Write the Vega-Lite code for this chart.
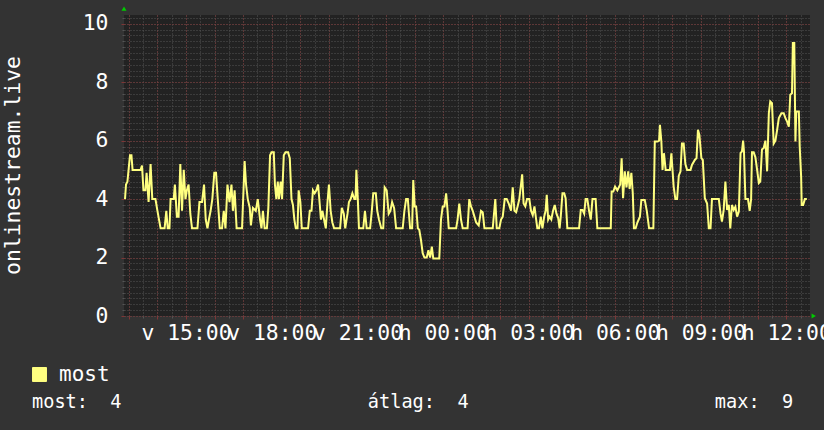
{
  "$schema": "https://vega.github.io/schema/vega-lite/v6.json",
  "width": 686,
  "height": 301,
  "autosize": {"type": "none"},
  "padding": {"left": 124, "top": 15, "right": 14, "bottom": 114},
  "background": "#333333",
  "config": {
    "view": {"fill": "#222222", "stroke": null},
    "font": "DejaVu Sans Mono"
  },
  "title": {
    "text": "most:\u00a0\u00a04\u00a0\u00a0\u00a0\u00a0\u00a0\u00a0\u00a0\u00a0\u00a0\u00a0\u00a0\u00a0\u00a0\u00a0\u00a0\u00a0\u00a0\u00a0\u00a0\u00a0\u00a0\u00a0átlag:\u00a0\u00a04\u00a0\u00a0\u00a0\u00a0\u00a0\u00a0\u00a0\u00a0\u00a0\u00a0\u00a0\u00a0\u00a0\u00a0\u00a0\u00a0\u00a0\u00a0\u00a0\u00a0\u00a0\u00a0max:\u00a0\u00a09",
    "orient": "bottom",
    "anchor": "start",
    "frame": "group",
    "dx": -92,
    "offset": 8,
    "font": "DejaVu Sans Mono",
    "fontSize": 18.6,
    "fontWeight": "normal",
    "color": "#ffffff"
  },
  "data": {"values": [
    {"hour":12.865,"value":4.0},{"hour":12.90,"value":4.5},{"hour":12.95,"value":4.6},{"hour":13.04,"value":5.5},{"hour":13.09,"value":5.5},{"hour":13.13,"value":5.0},{"hour":13.41,"value":5.0},{"hour":13.46,"value":5.15},{"hour":13.51,"value":4.3},{"hour":13.58,"value":4.3},{"hour":13.62,"value":4.9},{"hour":13.69,"value":3.9},{"hour":13.76,"value":5.2},{"hour":13.82,"value":4.0},{"hour":13.93,"value":4.0},{"hour":14.00,"value":3.6},{"hour":14.11,"value":3.0},{"hour":14.25,"value":3.0},{"hour":14.31,"value":3.6},{"hour":14.36,"value":3.0},{"hour":14.42,"value":3.0},{"hour":14.46,"value":4.0},{"hour":14.57,"value":4.0},{"hour":14.61,"value":4.5},{"hour":14.68,"value":3.4},{"hour":14.74,"value":3.4},{"hour":14.80,"value":5.2},{"hour":14.86,"value":3.6},{"hour":14.92,"value":5.0},{"hour":14.98,"value":4.0},{"hour":15.03,"value":4.3},{"hour":15.09,"value":4.5},{"hour":15.15,"value":3.5},{"hour":15.21,"value":3.0},{"hour":15.40,"value":3.0},{"hour":15.47,"value":3.9},{"hour":15.56,"value":3.9},{"hour":15.63,"value":4.5},{"hour":15.69,"value":3.3},{"hour":15.75,"value":3.0},{"hour":15.80,"value":3.3},{"hour":15.86,"value":3.6},{"hour":15.92,"value":4.0},{"hour":15.99,"value":4.9},{"hour":16.05,"value":4.9},{"hour":16.11,"value":4.0},{"hour":16.18,"value":3.0},{"hour":16.26,"value":3.0},{"hour":16.32,"value":3.6},{"hour":16.38,"value":3.0},{"hour":16.45,"value":4.5},{"hour":16.52,"value":3.9},{"hour":16.59,"value":4.5},{"hour":16.64,"value":3.6},{"hour":16.70,"value":4.3},{"hour":16.77,"value":3.0},{"hour":16.96,"value":3.0},{"hour":17.05,"value":5.3},{"hour":17.10,"value":4.5},{"hour":17.16,"value":4.0},{"hour":17.23,"value":3.7},{"hour":17.27,"value":3.1},{"hour":17.34,"value":3.7},{"hour":17.44,"value":3.6},{"hour":17.51,"value":4.0},{"hour":17.59,"value":3.3},
    {"hour":17.64,"value":3.0},{"hour":17.69,"value":3.6},{"hour":17.75,"value":3.0},{"hour":17.83,"value":3.0},{"hour":17.88,"value":3.7},{"hour":17.94,"value":5.5},{"hour":17.99,"value":5.6},{"hour":18.07,"value":5.6},{"hour":18.11,"value":4.5},{"hour":18.16,"value":4.0},{"hour":18.21,"value":4.6},{"hour":18.25,"value":4.0},{"hour":18.31,"value":4.6},{"hour":18.36,"value":4.0},{"hour":18.42,"value":5.5},{"hour":18.48,"value":5.6},{"hour":18.57,"value":5.6},{"hour":18.63,"value":5.4},{"hour":18.69,"value":4.0},{"hour":18.74,"value":3.8},{"hour":18.79,"value":3.3},{"hour":18.84,"value":3.0},{"hour":18.90,"value":3.0},{"hour":18.94,"value":4.3},{"hour":19.00,"value":3.9},{"hour":19.05,"value":3.0},{"hour":19.27,"value":3.0},{"hour":19.33,"value":3.6},{"hour":19.39,"value":3.6},{"hour":19.44,"value":4.3},{"hour":19.50,"value":4.2},{"hour":19.56,"value":4.3},{"hour":19.62,"value":4.5},{"hour":19.68,"value":3.8},{"hour":19.72,"value":3.3},{"hour":19.77,"value":3.6},{"hour":19.83,"value":3.3},{"hour":19.89,"value":3.0},{"hour":19.95,"value":3.9},{"hour":20.00,"value":4.5},{"hour":20.06,"value":3.6},{"hour":20.12,"value":3.2},{"hour":20.18,"value":3.0},{"hour":20.39,"value":3.0},{"hour":20.45,"value":3.7},{"hour":20.52,"value":3.5},{"hour":20.57,"value":3.0},{"hour":20.65,"value":3.5},{"hour":20.70,"value":3.9},{"hour":20.76,"value":4.0},{"hour":20.82,"value":4.2},{"hour":20.89,"value":4.0},{"hour":20.93,"value":4.0},{"hour":20.96,"value":5.0},{"hour":21.01,"value":4.0},{"hour":21.05,"value":3.0},{"hour":21.20,"value":3.0},{"hour":21.26,"value":3.6},{"hour":21.32,"value":3.0},{"hour":21.44,"value":3.0},{"hour":21.50,"value":3.6},{"hour":21.55,"value":4.2},{"hour":21.64,"value":4.2},{"hour":21.69,"value":3.6},{"hour":21.75,"value":3.3},{"hour":21.83,"value":3.0},{"hour":21.90,"value":3.0},{"hour":21.95,"value":4.4},{"hour":22.02,"value":4.3},{"hour":22.09,"value":3.5},{"hour":22.15,"value":3.6},{"hour":22.21,"value":3.9},{"hour":22.28,"value":3.7},{"hour":22.35,"value":3.0},{"hour":22.42,"value":3.0},
    {"hour":22.58,"value":3.0},{"hour":22.64,"value":3.6},{"hour":22.70,"value":4.0},{"hour":22.76,"value":4.0},{"hour":22.79,"value":3.6},{"hour":22.84,"value":3.0},{"hour":22.91,"value":3.0},{"hour":22.95,"value":4.65},{"hour":23.00,"value":3.75},{"hour":23.05,"value":3.75},{"hour":23.11,"value":3.0},{"hour":23.16,"value":2.95},{"hour":23.22,"value":2.6},{"hour":23.28,"value":2.15},{"hour":23.34,"value":2.0},{"hour":23.42,"value":2.0},{"hour":23.48,"value":2.25},{"hour":23.54,"value":2.0},{"hour":23.60,"value":2.37},{"hour":23.65,"value":1.97},{"hour":23.86,"value":1.97},{"hour":23.92,"value":3.3},{"hour":23.98,"value":3.75},{"hour":24.04,"value":3.75},{"hour":24.10,"value":4.2},{"hour":24.15,"value":3.6},{"hour":24.19,"value":3.0},{"hour":24.45,"value":3.0},{"hour":24.50,"value":3.3},{"hour":24.56,"value":3.85},{"hour":24.62,"value":3.3},{"hour":24.68,"value":3.0},{"hour":24.85,"value":3.0},{"hour":24.91,"value":4.0},{"hour":24.97,"value":3.75},{"hour":25.03,"value":3.6},{"hour":25.09,"value":3.4},{"hour":25.15,"value":3.2},{"hour":25.24,"value":3.1},{"hour":25.32,"value":3.6},{"hour":25.38,"value":3.55},{"hour":25.44,"value":3.0},{"hour":25.73,"value":3.0},{"hour":25.82,"value":4.0},{"hour":25.87,"value":3.0},{"hour":25.96,"value":3.0},{"hour":26.02,"value":3.3},{"hour":26.08,"value":3.4},{"hour":26.15,"value":4.0},{"hour":26.22,"value":4.0},{"hour":26.29,"value":3.85},{"hour":26.37,"value":3.6},{"hour":26.43,"value":4.4},{"hour":26.49,"value":3.6},{"hour":26.55,"value":3.55},{"hour":26.60,"value":3.75},{"hour":26.66,"value":4.0},{"hour":26.76,"value":4.85},{"hour":26.81,"value":3.85},{"hour":26.87,"value":3.75},{"hour":26.93,"value":4.0},{"hour":27.01,"value":4.0},{"hour":27.07,"value":3.6},{"hour":27.13,"value":3.45},{"hour":27.19,"value":3.75},{"hour":27.25,"value":3.3},
    {"hour":27.29,"value":3.0},{"hour":27.35,"value":3.0},{"hour":27.41,"value":3.4},{"hour":27.47,"value":3.0},{"hour":27.53,"value":3.4},{"hour":27.58,"value":3.6},{"hour":27.62,"value":4.15},{"hour":27.67,"value":3.3},{"hour":27.72,"value":3.4},{"hour":27.78,"value":3.3},{"hour":27.84,"value":3.6},{"hour":27.90,"value":3.8},{"hour":27.96,"value":3.5},{"hour":28.02,"value":3.35},{"hour":28.07,"value":3.0},{"hour":28.11,"value":3.4},{"hour":28.17,"value":4.2},{"hour":28.23,"value":4.2},{"hour":28.28,"value":4.03},{"hour":28.34,"value":3.0},{"hour":28.75,"value":3.0},{"hour":28.81,"value":3.63},{"hour":28.87,"value":3.63},{"hour":28.93,"value":3.5},{"hour":28.98,"value":4.0},{"hour":29.04,"value":4.0},{"hour":29.10,"value":3.6},{"hour":29.16,"value":3.3},{"hour":29.22,"value":4.0},{"hour":29.33,"value":4.0},{"hour":29.39,"value":3.0},{"hour":29.86,"value":3.0},{"hour":29.89,"value":4.26},{"hour":29.95,"value":4.26},{"hour":30.01,"value":4.43},{"hour":30.09,"value":4.3},{"hour":30.19,"value":4.5},{"hour":30.24,"value":5.4},{"hour":30.29,"value":4.03},{"hour":30.35,"value":4.95},{"hour":30.41,"value":4.4},{"hour":30.47,"value":4.95},{"hour":30.52,"value":4.35},{"hour":30.58,"value":4.9},{"hour":30.63,"value":4.2},{"hour":30.67,"value":3.0},{"hour":30.73,"value":3.0},{"hour":30.79,"value":3.2},{"hour":30.88,"value":3.4},{"hour":30.93,"value":3.97},{"hour":31.05,"value":3.97},{"hour":31.12,"value":3.6},{"hour":31.20,"value":3.0},{"hour":31.35,"value":3.0},{"hour":31.40,"value":5.97},{"hour":31.49,"value":5.97},{"hour":31.55,"value":6.0},{"hour":31.58,"value":6.54},{"hour":31.63,"value":5.97},{"hour":31.67,"value":5.0},{"hour":31.72,"value":5.57},{"hour":31.78,"value":5.0},{"hour":31.93,"value":5.0},{"hour":31.98,"value":5.57},
    {"hour":32.06,"value":4.43},{"hour":32.12,"value":4.0},{"hour":32.18,"value":4.0},{"hour":32.24,"value":4.8},{"hour":32.30,"value":4.95},{"hour":32.35,"value":5.9},{"hour":32.41,"value":5.9},{"hour":32.47,"value":5.2},{"hour":32.53,"value":5.0},{"hour":32.65,"value":5.0},{"hour":32.70,"value":5.17},{"hour":32.80,"value":5.34},{"hour":32.86,"value":5.4},{"hour":32.91,"value":6.37},{"hour":32.96,"value":6.2},{"hour":33.03,"value":5.4},{"hour":33.08,"value":5.34},{"hour":33.15,"value":4.03},{"hour":33.23,"value":3.85},{"hour":33.29,"value":3.0},{"hour":33.35,"value":3.0},{"hour":33.40,"value":4.0},{"hour":33.64,"value":4.0},{"hour":33.70,"value":3.5},{"hour":33.75,"value":3.23},{"hour":33.81,"value":3.63},{"hour":33.87,"value":4.6},{"hour":33.93,"value":3.63},{"hour":33.99,"value":3.8},{"hour":34.04,"value":3.0},{"hour":34.10,"value":3.8},{"hour":34.16,"value":3.63},{"hour":34.22,"value":3.74},{"hour":34.28,"value":3.4},{"hour":34.34,"value":3.57},{"hour":34.40,"value":5.57},{"hour":34.45,"value":5.63},{"hour":34.49,"value":6.0},{"hour":34.52,"value":5.63},{"hour":34.57,"value":4.0},{"hour":34.66,"value":4.0},{"hour":34.72,"value":3.6},{"hour":34.77,"value":4.0},{"hour":34.80,"value":5.6},{"hour":34.86,"value":5.6},{"hour":34.92,"value":5.43},{"hour":34.98,"value":5.0},{"hour":35.04,"value":4.55},{"hour":35.09,"value":4.6},{"hour":35.15,"value":5.7},{"hour":35.21,"value":5.75},{"hour":35.27,"value":6.0},{"hour":35.33,"value":4.95},{"hour":35.39,"value":6.94},{"hour":35.44,"value":7.34},{"hour":35.50,"value":7.28},{"hour":35.56,"value":5.9},{"hour":35.62,"value":6.0},{"hour":35.68,"value":6.37},{"hour":35.74,"value":6.77},{"hour":35.83,"value":6.94},{"hour":35.91,"value":6.94},{"hour":35.97,"value":6.77},{"hour":36.03,"value":6.65},{"hour":36.09,"value":6.48},{"hour":36.14,"value":7.57},{"hour":36.20,"value":7.62},{"hour":36.23,"value":9.34},{"hour":36.28,"value":9.34},{"hour":36.32,"value":5.97},{"hour":36.35,"value":7.0},{"hour":36.44,"value":7.0},{"hour":36.47,"value":5.8},{"hour":36.52,"value":4.77},{"hour":36.54,"value":3.8},{"hour":36.59,"value":3.8},{"hour":36.65,"value":4.0},{"hour":36.72,"value":4.0}
  ]},
  "layer": [
    {
      "mark": {"type": "point", "opacity": 0},
      "encoding": {
        "x": {"field": "hour", "type": "quantitative",
          "scale": {"domain": [12.83, 36.83], "nice": false, "zero": false},
          "axis": {"orient": "bottom", "values": [13,13.5,14,14.5,15,15.5,16,16.5,17,17.5,18,18.5,19,19.5,20,20.5,21,21.5,22,22.5,23,23.5,24,24.5,25,25.5,26,26.5,27,27.5,28,28.5,29,29.5,30,30.5,31,31.5,32,32.5,33,33.5,34,34.5,35,35.5,36,36.5],
            "grid": true, "gridColor": "#555555", "gridDash": [1, 2], "gridWidth": 1,
            "labels": false, "ticks": true, "tickSize": 2, "tickColor": "#555555", "domain": false, "title": null}},
        "y": {"field": "value", "type": "quantitative",
          "scale": {"domain": [0, 10.3], "nice": false, "zero": false},
          "axis": {"orient": "left", "values": [0,0.2,0.4,0.6,0.8,1,1.2,1.4,1.6,1.8,2,2.2,2.4,2.6,2.8,3,3.2,3.4,3.6,3.8,4,4.2,4.4,4.6,4.8,5,5.2,5.4,5.6,5.8,6,6.2,6.4,6.6,6.8,7,7.2,7.4,7.6,7.8,8,8.2,8.4,8.6,8.8,9,9.2,9.4,9.6,9.8,10,10.2],
            "grid": true, "gridColor": "#555555", "gridDash": [1, 2], "gridWidth": 1,
            "labels": false, "ticks": true, "tickSize": 2, "tickColor": "#555555", "domain": false, "title": null}}
      }
    },
    {
      "mark": {"type": "point", "opacity": 0},
      "encoding": {
        "x": {"field": "hour", "type": "quantitative",
          "scale": {"domain": [12.83, 36.83], "nice": false, "zero": false},
          "axis": {"orient": "bottom", "values": [13,14,15,16,17,18,19,20,21,22,23,24,25,26,27,28,29,30,31,32,33,34,35,36],
            "grid": true, "gridColor": "#803535", "gridDash": [1, 2], "gridWidth": 1,
            "labels": false, "ticks": true, "tickSize": 3, "tickColor": "#803535", "domain": false, "title": null}},
        "y": {"field": "value", "type": "quantitative",
          "scale": {"domain": [0, 10.3], "nice": false, "zero": false},
          "axis": {"orient": "left", "values": [0,2,4,6,8,10],
            "grid": true, "gridColor": "#803535", "gridDash": [1, 2], "gridWidth": 1,
            "labels": false, "ticks": true, "tickSize": 3, "tickColor": "#803535", "domain": false, "title": null}}
      }
    },
    {
      "layer": [
        {
          "mark": {"type": "line", "strokeWidth": 2, "interpolate": "linear"},
          "encoding": {
            "x": {"field": "hour", "type": "quantitative",
              "scale": {"domain": [12.83, 36.83], "nice": false, "zero": false},
              "axis": {"orient": "bottom", "values": [15,18,21,24,27,30,33,36],
                "labelExpr": "(datum.value < 24 ? 'v ' : 'h ') + (datum.value % 24 < 10 ? '0' : '') + (datum.value % 24) + ':00'",
                "grid": false, "ticks": false, "domain": false, "title": null,
                "labelFont": "DejaVu Sans Mono", "labelFontSize": 21.4, "labelColor": "#ffffff",
                "labelPadding": 6, "labelOverlap": false, "labelFlush": false, "labelBound": false}},
            "y": {"field": "value", "type": "quantitative",
              "scale": {"domain": [0, 10.3], "nice": false, "zero": false},
              "axis": {"orient": "left", "values": [0,2,4,6,8,10],
                "grid": false, "ticks": false, "domain": false,
                "labelFont": "DejaVu Sans Mono", "labelFontSize": 21.4, "labelColor": "#ffffff",
                "labelPadding": 16, "labelOverlap": false, "labelFlush": false,
                "title": "onlinestream.live", "titleFont": "DejaVu Sans Mono", "titleFontSize": 21.4,
                "titleFontWeight": "normal", "titleColor": "#ffffff",
                "titleX": -111, "titleY": 150, "titleAngle": 270, "titleAlign": "center", "titleBaseline": "middle"}},
            "color": {"datum": "most", "type": "nominal",
              "scale": {"domain": ["most"], "range": ["#ffff80"]},
              "legend": {"orient": "none", "legendX": -95, "legendY": 349, "title": null,
                "symbolType": "square", "symbolSize": 195, "symbolFillColor": "#ffff80",
                "symbolStrokeColor": "#000000", "symbolStrokeWidth": 1, "symbolOpacity": 1,
                "labelFont": "DejaVu Sans Mono", "labelFontSize": 21, "labelColor": "#ffffff",
                "labelOffset": 9, "padding": 0}}
          }
        },
        {
          "data": {"values": [{}]},
          "mark": {"type": "point", "shape": "triangle-up", "filled": true, "color": "#00cc00", "size": 25, "opacity": 1},
          "encoding": {"x": {"datum": 12.83, "type": "quantitative"}, "y": {"datum": 10.52, "type": "quantitative"}}
        },
        {
          "data": {"values": [{}]},
          "mark": {"type": "point", "shape": "triangle-right", "filled": true, "color": "#00cc00", "size": 25, "opacity": 1},
          "encoding": {"x": {"datum": 36.96, "type": "quantitative"}, "y": {"datum": 0, "type": "quantitative"}}
        }
      ]
    }
  ],
  "resolve": {"scale": {"x": "independent", "y": "independent"}, "axis": {"x": "independent", "y": "independent"}}
}
